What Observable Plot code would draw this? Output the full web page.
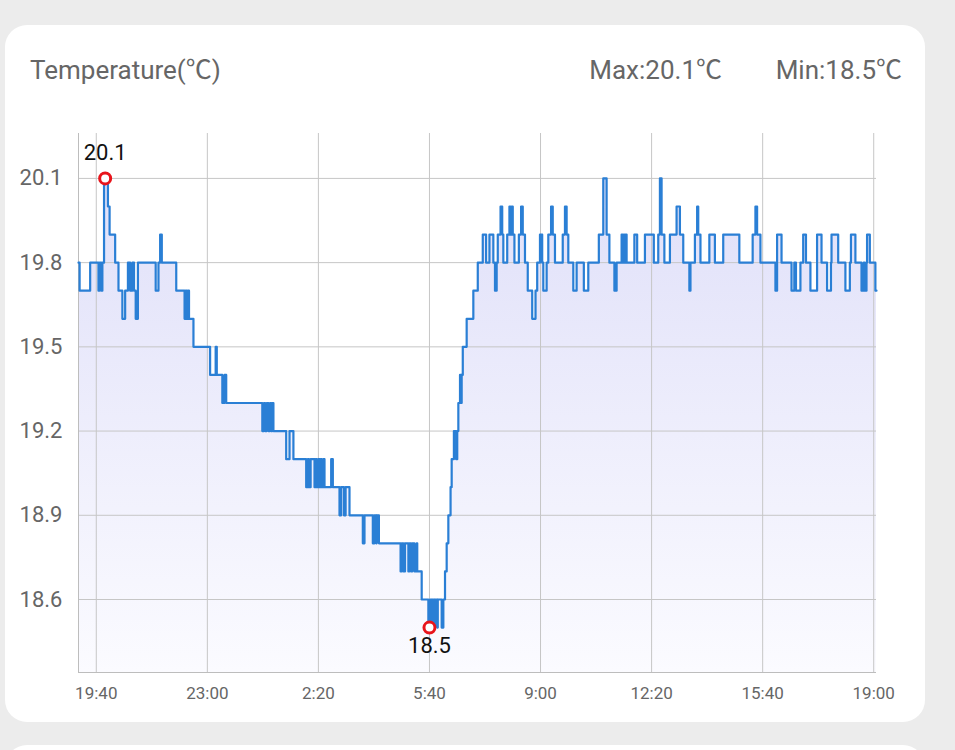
<!DOCTYPE html>
<html><head><meta charset="utf-8">
<script src="https://cdn.jsdelivr.net/npm/d3@7"></script>
<script src="https://cdn.jsdelivr.net/npm/@observablehq/plot@0.6"></script>
<style>
html,body{margin:0;padding:0;background:#ececec;width:955px;height:750px;overflow:hidden;font-family:Roboto,"Noto Sans CJK SC",sans-serif;}
.card{position:absolute;left:5px;top:25px;width:920px;height:697px;background:#fff;border-radius:22px;}
.card2{position:absolute;left:5px;top:745px;width:920px;height:100px;background:#fff;border-radius:22px;}
.t{position:absolute;color:#666;font-size:26px;line-height:1;white-space:nowrap;}
#chart{position:absolute;left:0;top:0;}
</style></head><body>
<div class="card"></div><div class="card2"></div>
<div class="t" style="left:30px;top:57px">Temperature(℃)</div>
<div class="t" style="right:233px;top:57px">Max:20.1℃</div>
<div class="t" style="right:53px;top:57px">Min:18.5℃</div>
<div id="chart"></div>
<script>
// change points (time, °C), drawn as a step line
const times = ["19:08","19:10","19:29","19:44","19:46","19:49","19:51","19:54","20:01","20:04","20:14","20:20","20:27","20:32","20:37","20:41","20:45","20:48","20:51","20:55","21:27","21:32","21:35","21:38","22:04","22:19","22:21","22:23","22:25","22:27","22:35","23:05","23:15","23:17","23:27","23:31","23:34",
"00:39","00:42","00:44","00:47","00:50","00:53","00:55","00:57","00:59","01:22","01:28","01:35","01:58","02:01","02:03","02:06","02:13","02:15","02:17","02:20","02:22","02:24","02:26","02:29","02:31","02:43","02:46","02:58","03:01","03:06","03:09","03:16","03:40","03:43","03:58","04:01","04:04","04:05","04:09","04:48","04:50","04:53","04:56","05:02","05:04","05:07","05:09","05:13","05:17","05:18","05:26","05:38","05:41","05:44","05:45","05:49","05:50","05:54","05:55","06:02","06:05",
"06:08","06:11","06:14","06:18","06:20","06:24","06:28","06:30","06:32","06:35","06:37","06:38","06:40","06:47","06:59","07:07","07:16","07:22","07:28","07:35","07:38","07:41","07:43","07:48","07:51","07:53","08:00","08:04","08:06","08:08","08:10","08:13","08:21","08:25","08:28","08:32","08:37","08:45","08:51","08:54","08:59","09:03","09:05","09:11","09:14","09:19","09:22","09:26","09:40","09:44","09:47","09:50","09:59","10:05","10:18","10:26","10:45","10:53","10:59","11:04","11:13","11:17","11:26","11:28","11:30","11:31","11:33","11:35","11:49","11:54","12:08","12:24","12:32","12:35","12:38","12:43","12:53","13:05","13:11","13:17","13:28","13:30","13:38","13:42","13:44","13:48","14:04","14:14","14:29","14:58","15:22","15:27","15:30","15:36","16:03","16:06","16:14","16:32","16:37","16:40","16:48","16:53","16:58","17:06","17:18","17:26","17:36","17:43","17:44","17:56","18:09","18:17","18:19","18:27","18:38","18:42","18:44","18:47","18:48","18:53","19:03","19:05"];
const temps = [19.8,19.7,19.8,19.7,19.8,19.7,19.8,20.1,20.0,19.9,19.8,19.7,19.6,19.7,19.8,19.7,19.8,19.7,19.6,19.8,19.7,19.8,19.9,19.8,19.7,19.6,19.7,19.6,19.7,19.6,19.5,19.4,19.5,19.4,19.3,19.4,19.3,
19.2,19.3,19.2,19.3,19.2,19.3,19.2,19.3,19.2,19.1,19.2,19.1,19.0,19.1,19.0,19.1,19.0,19.1,19.0,19.1,19.0,19.1,19.0,19.1,19.0,19.1,19.0,18.9,19.0,18.9,19.0,18.9,18.8,18.9,18.8,18.9,18.8,18.9,18.8,18.7,18.8,18.7,18.8,18.7,18.8,18.7,18.8,18.7,18.8,18.7,18.6,18.5,18.6,18.5,18.6,18.5,18.6,18.5,18.6,18.5,18.6,
18.7,18.8,18.9,19.0,19.1,19.2,19.1,19.2,19.3,19.4,19.3,19.4,19.5,19.6,19.7,19.8,19.9,19.8,19.9,19.8,19.7,19.8,19.9,20.0,19.9,19.8,19.9,20.0,19.9,20.0,19.9,19.8,19.9,20.0,19.9,19.8,19.7,19.6,19.7,19.8,19.9,19.8,19.7,19.8,19.9,20.0,19.9,19.8,19.9,20.0,19.9,19.8,19.7,19.8,19.7,19.8,19.9,20.1,19.9,19.8,19.7,19.8,19.9,19.8,19.9,19.8,19.9,19.8,19.9,19.8,19.9,19.8,19.9,20.1,19.9,19.8,19.9,20.0,19.9,19.8,19.7,19.8,19.9,20.0,19.9,19.8,19.9,19.8,19.9,19.8,19.9,20.0,19.9,19.8,19.7,19.9,19.8,19.7,19.8,19.7,19.8,19.9,19.8,19.7,19.9,19.8,19.7,19.8,19.9,19.8,19.7,19.8,19.9,19.8,19.7,19.8,19.7,19.8,19.9,19.8,19.7,19.7];

const yTicks = [18.6, 18.9, 19.2, 19.5, 19.8, 20.1];
const xTickLabels = ["19:40","23:00","2:20","5:40","9:00","12:20","15:40","19:00"];
const extremeTimes = ["19:56","05:40"];
const extremeValues = [20.1, 18.5];
const yDomain = [18.34, 20.26];

const base = Date.UTC(2024, 0, 1);
function toDates(arr) {
  let day = 0, prev = -1;
  return arr.map(s => {
    const [h, m] = s.split(":").map(Number);
    const mm = h * 60 + m;
    if (mm < prev) day++;
    prev = mm;
    return new Date(base + (day * 1440 + mm) * 60000);
  });
}
const dates = toDates(times);
const tickDates = toDates(xTickLabels);
const extDates = toDates(extremeTimes);
const data = dates.map((d, i) => ({t: d, v: temps[i]}));
const ext = extDates.map((d, i) => ({t: d, v: extremeValues[i]}));

const FONT = "Roboto, 'Noto Sans CJK SC', sans-serif";
const svg = Plot.plot({
  width: 955, height: 750,
  marginLeft: 78, marginRight: 79, marginTop: 133, marginBottom: 78,
  style: {background: "transparent", fontFamily: FONT, overflow: "visible"},
  x: {type: "utc", domain: [dates[0], dates[dates.length - 1]]},
  y: {domain: yDomain},
  marks: [
    Plot.areaY(data, {x: "t", y1: yDomain[0], y2: "v", curve: "step-after", fill: "url(#tempGrad)"}),
    Plot.gridY(yTicks, {stroke: "#c6c6c6", strokeOpacity: 1}),
    Plot.gridX(tickDates, {stroke: "#c6c6c6", strokeOpacity: 1}),
    Plot.ruleX([dates[0]], {stroke: "#bdbdbd"}),
    Plot.ruleY([yDomain[0]], {stroke: "#bdbdbd"}),
    Plot.lineY(data, {x: "t", y: "v", curve: "step-after", stroke: "#2a7fd5", strokeWidth: 2.2}),
    Plot.axisY(yTicks, {label: null, tickSize: 0, tickPadding: 16, fontSize: 22, fill: "#666", tickFormat: d => d.toFixed(1)}),
    Plot.axisX(tickDates, {label: null, tickSize: 0, tickPadding: 14, fontSize: 17, fill: "#666", tickFormat: d3.utcFormat("%-H:%M")}),
    Plot.dot(ext, {x: "t", y: "v", r: 5.5, stroke: "#e8141b", strokeWidth: 3, fill: "white"}),
    Plot.text(ext.slice(0, 1), {x: "t", y: "v", text: d => d.v.toFixed(1), dy: -25, fontSize: 22, fill: "#111"}),
    Plot.text(ext.slice(1), {x: "t", y: "v", text: d => d.v.toFixed(1), dy: 18, fontSize: 22, fill: "#111"})
  ]
});
const defs = document.createElementNS("http://www.w3.org/2000/svg", "defs");
defs.innerHTML = '<linearGradient id="tempGrad" x1="0" y1="0" x2="0" y2="1"><stop offset="0" stop-color="#e0e0f9"/><stop offset="1" stop-color="#fbfbff"/></linearGradient>';
svg.insertBefore(defs, svg.firstChild);
document.getElementById("chart").appendChild(svg);
</script>
</body></html>
